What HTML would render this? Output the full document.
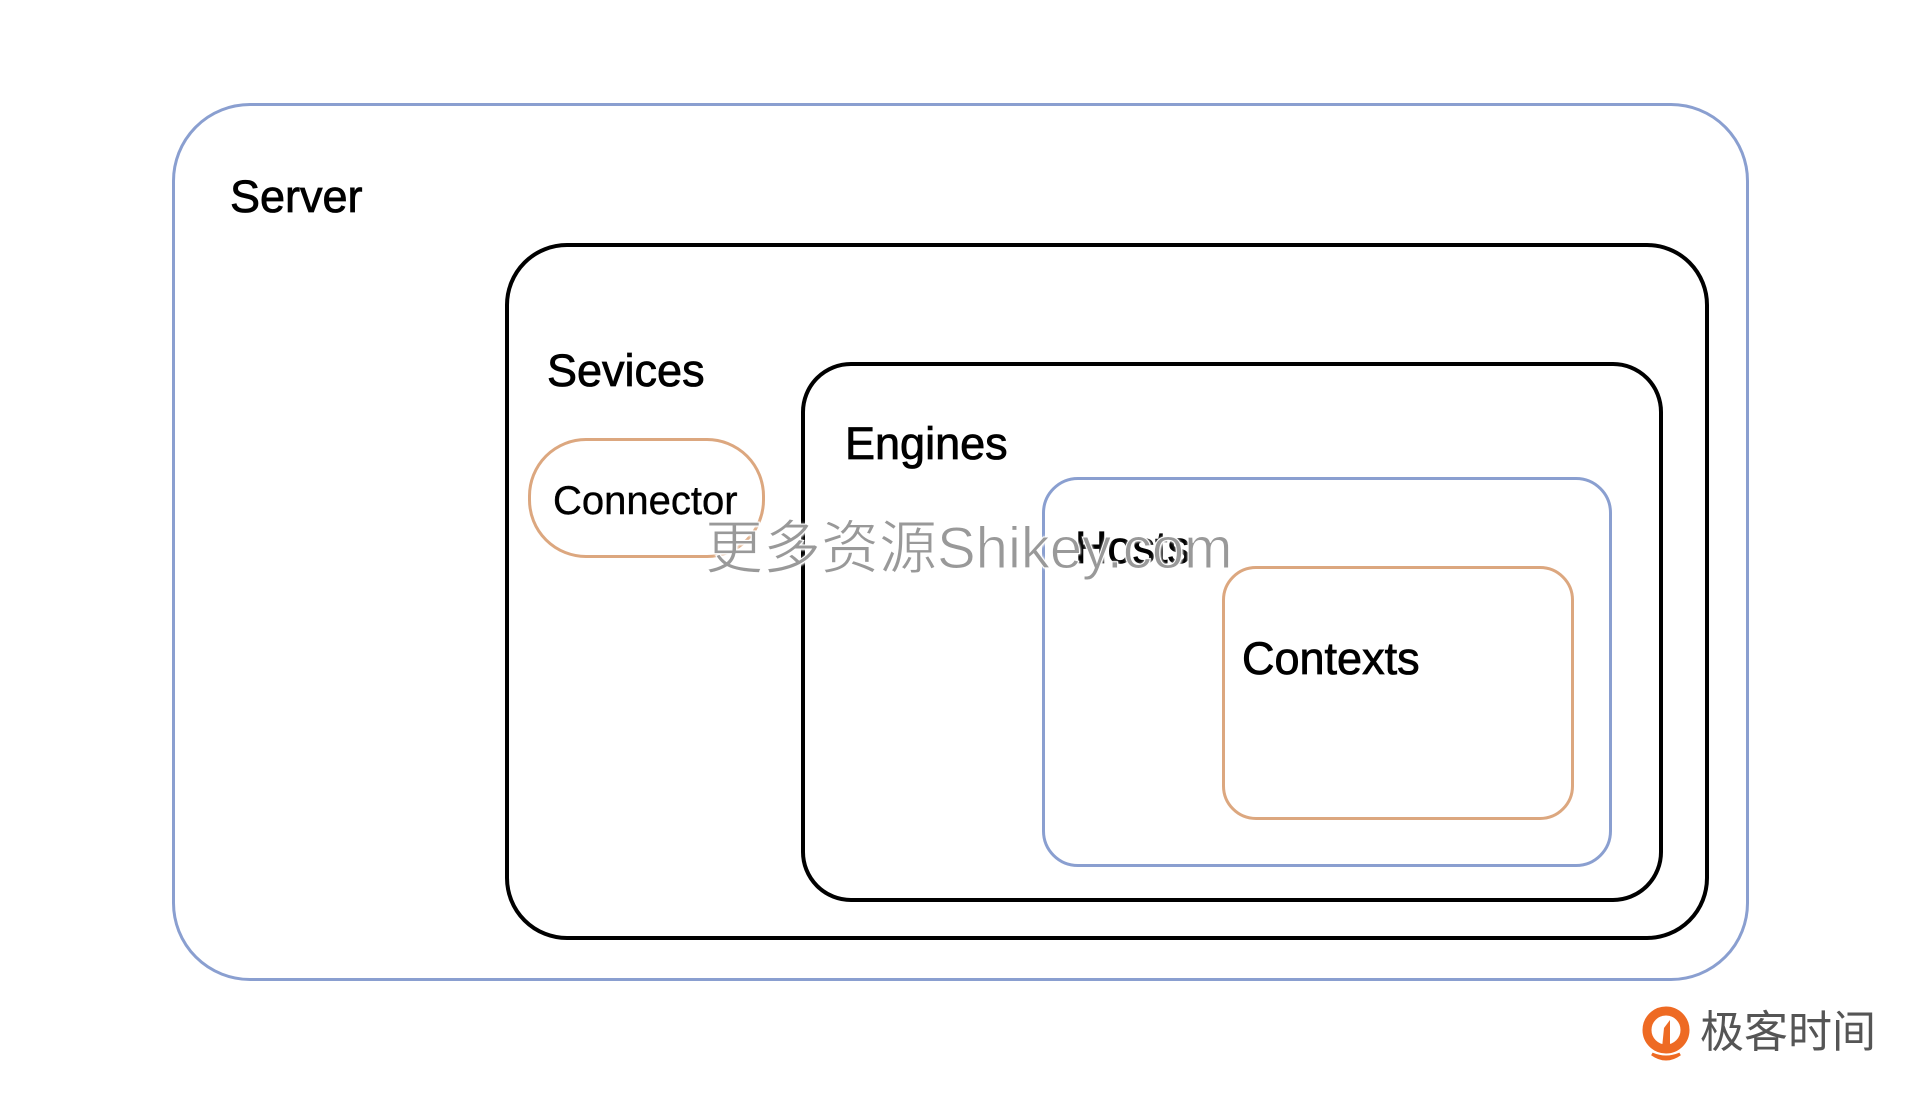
<!DOCTYPE html>
<html><head><meta charset="utf-8"><style>
html,body{margin:0;padding:0;background:#fff;}
body{width:1920px;height:1093px;position:relative;overflow:hidden;font-family:"Liberation Sans","Noto Sans CJK SC",sans-serif;}
.b{position:absolute;box-sizing:border-box;}
.t{position:absolute;color:#000;white-space:nowrap;line-height:1;-webkit-text-stroke:0.8px #000;}
</style></head><body>
<div class="b" style="left:172px;top:103px;width:1577px;height:878px;border:3px solid #8a9fd0;border-radius:78px;"></div>
<div class="b" style="left:505px;top:243px;width:1204px;height:697px;border:4px solid #000;border-radius:62px;"></div>
<div class="b" style="left:801px;top:362px;width:862px;height:540px;border:4px solid #000;border-radius:50px;"></div>
<div class="b" style="left:1042px;top:477px;width:570px;height:390px;border:3px solid #8a9fd0;border-radius:36px;"></div>
<div class="b" style="left:1222px;top:566px;width:352px;height:254px;border:3px solid #dca77f;border-radius:34px;"></div>
<div class="b" style="left:528px;top:438px;width:237px;height:120px;border:3px solid #dca77f;border-radius:58px;"></div>
<div class="t" style="left:230px;top:174px;font-size:45px;">Server</div>
<div class="t" style="left:547px;top:348px;font-size:45px;">Sevices</div>
<div class="t" style="left:845px;top:421px;font-size:45px;">Engines</div>
<div class="t" style="left:553px;top:481px;font-size:40px;-webkit-text-stroke:0.4px #000;">Connector</div>
<div class="t" style="left:1075px;top:525px;font-size:45px;">Hosts</div>
<div class="t" style="left:1242px;top:636px;font-size:45px;">Contexts</div>
<div class="t" style="left:705px;top:520px;font-size:58px;color:#999;-webkit-text-stroke:1px #fff;text-shadow:0 0 3px #fff,1px 1px 2px #fff;">更多资源Shikey.com</div>
<svg class="b" style="left:1642px;top:1004px;" width="48" height="62" viewBox="0 0 48 62">
<circle cx="24" cy="26" r="19" fill="none" stroke="#ee6a23" stroke-width="9"/>
<path d="M22 24 L28 16 L28 44 L20 44 Z" fill="#ee6a23"/>
<path d="M10 50 Q24 60 38 50 Q24 56 10 50 Z" fill="#ee6a23" stroke="#ee6a23" stroke-width="3"/>
</svg>
<div class="t" style="left:1700px;top:1011px;font-size:44px;color:#555;-webkit-text-stroke:0;">极客时间</div>
</body></html>
